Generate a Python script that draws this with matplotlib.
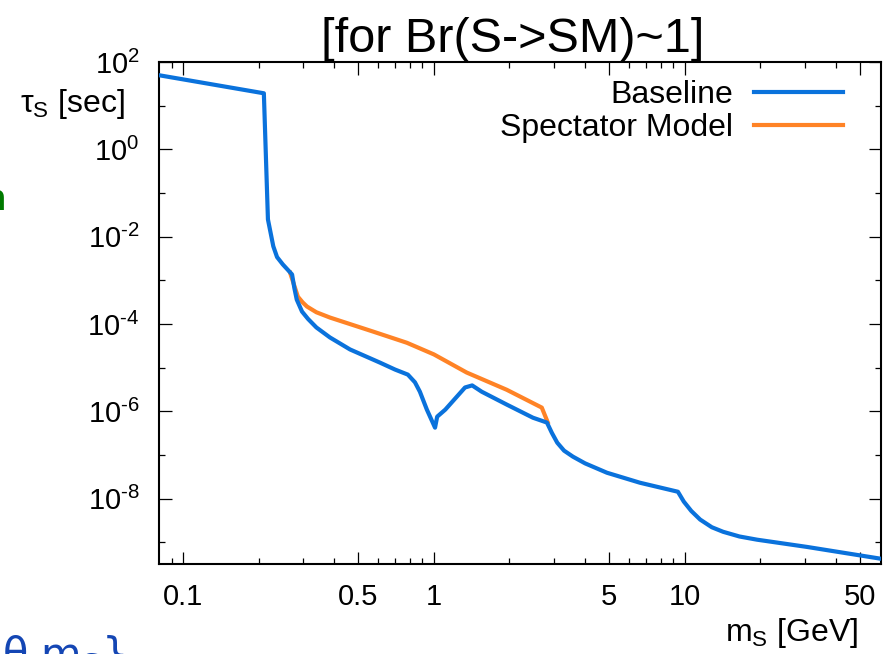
import matplotlib
matplotlib.use("Agg")
import matplotlib.pyplot as plt
from matplotlib.ticker import FixedLocator, FixedFormatter, NullFormatter

plt.rcParams['font.family'] = ['Liberation Sans', 'DejaVu Sans']
plt.rcParams['mathtext.fontset'] = 'custom'
plt.rcParams['mathtext.rm'] = 'Liberation Sans'
plt.rcParams['mathtext.it'] = 'Liberation Sans:italic'

# ---- data ----
baseline_m = [0.0802, 0.210, 0.218, 0.229, 0.237, 0.250, 0.272, 0.278, 0.284,
              0.298, 0.315, 0.340, 0.385, 0.463, 0.609, 0.700, 0.787, 0.840, 0.879, 0.937,
              1.01, 1.03, 1.11, 1.33, 1.42, 1.55, 1.95, 2.48, 2.82, 2.95, 3.10,
              3.30, 3.58, 4.00, 4.89, 6.62, 9.38, 9.9, 10.6, 11.5, 12.8, 14.2, 16.5, 19.4,
              30.6, 60.0]
baseline_tau = [49.8, 19.2, 0.0248, 6.0e-3, 3.4e-3, 2.3e-3, 1.36e-3, 6.5e-4, 3.6e-4,
                1.92e-4, 1.3e-4, 8.3e-5, 4.9e-5, 2.6e-5, 1.30e-5, 9.0e-6, 6.9e-6, 4.6e-6,
                2.8e-6, 1.09e-6,
                4.2e-7, 7.5e-7, 1.09e-6, 3.5e-6, 3.9e-6, 2.8e-6, 1.42e-6, 7.1e-7, 5.5e-7,
                3.2e-7, 1.9e-7,
                1.25e-7, 9.1e-8, 6.4e-8, 3.9e-8, 2.3e-8, 1.43e-8, 8.5e-9, 5.2e-9, 3.3e-9,
                2.2e-9, 1.73e-9, 1.35e-9, 1.14e-9,
                7.8e-10, 4.2e-10]

spectator_m = [0.267, 0.287, 0.300, 0.312, 0.340, 0.385, 0.571, 0.780, 1.0, 1.35, 1.95, 2.69, 2.84]
spectator_tau = [1.5e-3, 4.2e-4, 3.1e-4, 2.5e-4, 1.85e-4, 1.40e-4, 6.7e-5, 3.7e-5, 2.0e-5,
                 7.7e-6, 3.1e-6, 1.21e-6, 5.6e-7]

x_major = [0.1, 0.5, 1, 5, 10, 50]
x_major_labels = ['0.1', '0.5', '1', '5', '10', '50']
x_minor = [0.09, 0.2, 0.3, 0.4, 0.6, 0.7, 0.8, 0.9, 2, 3, 4, 6, 7, 8, 9, 20, 30, 40]
y_major_exp = [2, 0, -2, -4, -6, -8]
y_minor_exp = [1, -1, -3, -5, -7, -9]

title = '[for Br(S->SM)~1]'
labels = ['Baseline', 'Spectator Model']
colors = ['#0a72dc', '#ff8326']

# ---- figure ----
fig = plt.figure(figsize=(8.88, 6.54), dpi=100)
ax = fig.add_axes([0.179, 0.1376, 0.813, 0.7676])

l_spec, = ax.plot(spectator_m, spectator_tau, color=colors[1], lw=3.0, zorder=2)
l_base, = ax.plot(baseline_m, baseline_tau, color=colors[0], lw=3.0, zorder=3)

ax.set_xscale('log')
ax.set_yscale('log')
ax.set_xlim(0.0802, 60.4)
ax.set_ylim(10 ** -9.5, 10 ** 2)

ax.xaxis.set_major_locator(FixedLocator(x_major))
ax.xaxis.set_major_formatter(FixedFormatter(x_major_labels))
ax.xaxis.set_minor_locator(FixedLocator(x_minor))
ax.xaxis.set_minor_formatter(NullFormatter())

ax.yaxis.set_major_locator(FixedLocator([10.0 ** e for e in y_major_exp]))
ax.yaxis.set_major_formatter(FixedFormatter(
    [r'$\mathregular{10^{\text{%d}}}$' % e for e in y_major_exp]))
ax.yaxis.set_minor_locator(FixedLocator([10.0 ** e for e in y_minor_exp]))
ax.yaxis.set_minor_formatter(NullFormatter())

for s in ax.spines.values():
    s.set_linewidth(1.5)
ax.tick_params(which='both', direction='in', top=True, right=True, width=0.9, labelsize=21)
ax.tick_params(which='major', length=9)
ax.tick_params(which='minor', length=4.5)
ax.tick_params(axis='x', which='major', pad=14)
ax.tick_params(axis='y', which='major', pad=14)

ax.set_title(title, fontsize=35, pad=2, x=0.4896)

fig.text(125 / 888, 1 - 104 / 654, r'$\mathregular{\tau_S}$ [sec]', fontsize=23,
         ha='right', va='center')
fig.text(858 / 888, 1 - 633 / 654, r'$\mathregular{m_S}$ [GeV]', fontsize=23,
         ha='right', va='center')

# legend, gnuplot style: text right-aligned, line sample on the right
ax.legend([l_base, l_spec], labels, loc='upper right', bbox_to_anchor=(0.979, 1.008),
          frameon=False, fontsize=23, markerfirst=False, handlelength=2.8,
          handletextpad=0.65, labelspacing=0.08, borderpad=0.2, alignment='right')

# cut-off slide text at the edges
fig.text(6 / 888, 1 - 200 / 654, 'n', fontsize=26, color='#007a00', ha='right', va='center',
         fontweight='bold')
fig.text(2 / 888, 1 - 668 / 654, r'θ m$\mathregular{_S}$}', fontsize=30, color='#1446b4',
         ha='left', va='baseline', family=['DejaVu Sans'])

fig.savefig('out.png', dpi=100)
